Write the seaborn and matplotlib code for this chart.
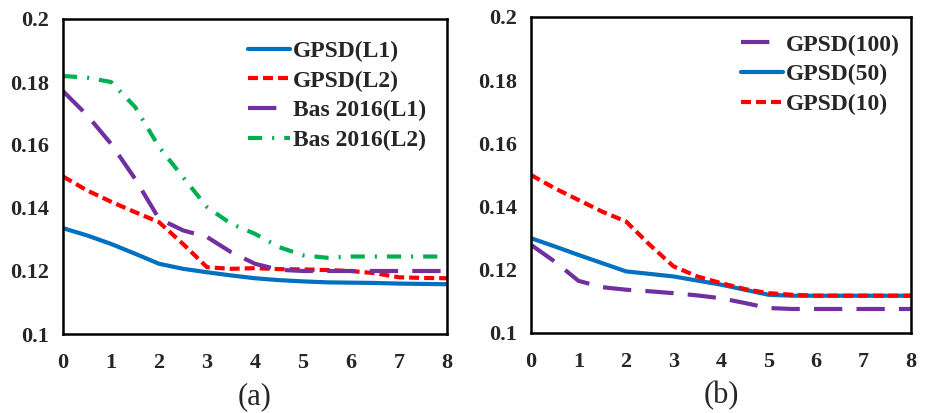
import numpy as np
import pandas as pd
import matplotlib
matplotlib.use("Agg")
import matplotlib.pyplot as plt
import seaborn as sns

# data (every half step)
iters = [0, 0.5, 1, 1.5, 2, 2.5, 3, 3.5, 4, 4.5, 5, 5.5, 6, 6.5, 7, 7.5, 8]

gpsd_l1 = [0.1336, 0.1313, 0.1286, 0.1255, 0.1223, 0.1207, 0.1196, 0.1186, 0.1177,
           0.1171, 0.1167, 0.1164, 0.1163, 0.1162, 0.1160, 0.1159, 0.1158]
gpsd_l2 = [0.1500, 0.1456, 0.1420, 0.1387, 0.1355, 0.1286, 0.1212, 0.1207, 0.1209,
           0.1206, 0.1205, 0.1203, 0.1200, 0.1193, 0.1180, 0.1178, 0.1177]
bas_l1 = [0.1771, 0.1695, 0.1604, 0.1493, 0.1366, 0.1329, 0.1308, 0.1260, 0.1223,
          0.1204, 0.1200, 0.1200, 0.1200, 0.1200, 0.1200, 0.1200, 0.1200]
bas_l2 = [0.1819, 0.1814, 0.1800, 0.1721, 0.1594, 0.1498, 0.1403, 0.1350, 0.1318,
          0.1276, 0.1250, 0.1242, 0.1246, 0.1246, 0.1246, 0.1246, 0.1246]

gpsd_100 = [0.1279, 0.1226, 0.1165, 0.1145, 0.1137, 0.1132, 0.1126, 0.1119, 0.1110,
            0.1095, 0.1079, 0.1076, 0.1076, 0.1076, 0.1076, 0.1076, 0.1076]
gpsd_50 = [0.1300, 0.1274, 0.1247, 0.1221, 0.1195, 0.1187, 0.1179, 0.1166, 0.1153,
           0.1137, 0.1121, 0.1118, 0.1118, 0.1118, 0.1118, 0.1118, 0.1118]
gpsd_10 = [0.1500, 0.1458, 0.1421, 0.1384, 0.1353, 0.1279, 0.1211, 0.1179, 0.1158,
           0.1139, 0.1126, 0.1121, 0.1118, 0.1118, 0.1118, 0.1118, 0.1118]

blue = "#0070C0"
red = "#FF0000"
purple = "#7030A0"
green = "#00B050"

solid = "-"
short_dash = (0, (2.4, 1.2))
long_dash = (0, (6.8, 3.4))
dash_dot = (0, (3.4, 2.4, 0.5, 2.4))

sns.set_style("white")
plt.rcParams["font.family"] = ["Liberation Serif", "DejaVu Serif"]
plt.rcParams["font.weight"] = "bold"

fig = plt.figure(figsize=(9.29, 4.13), dpi=100)
ax1 = fig.add_axes([63 / 929, 1 - 334 / 413, 384 / 929, 315 / 413])
ax2 = fig.add_axes([531 / 929, 1 - 333 / 413, 380 / 929, 316 / 413])

panel_a = [
    ("GPSD(L1)", gpsd_l1, blue, solid),
    ("GPSD(L2)", gpsd_l2, red, short_dash),
    ("Bas 2016(L1)", bas_l1, purple, long_dash),
    ("Bas 2016(L2)", bas_l2, green, dash_dot),
]
panel_b = [
    ("GPSD(100)", gpsd_100, purple, long_dash),
    ("GPSD(50)", gpsd_50, blue, solid),
    ("GPSD(10)", gpsd_10, red, short_dash),
]

for ax, series, tag, anchor in [(ax1, panel_a, "(a)", (1.0, 1.0)),
                                (ax2, panel_b, "(b)", (1.026, 1.013))]:
    for name, vals, col, ls in series:
        df = pd.DataFrame({"x": iters, "y": vals})
        sns.lineplot(data=df, x="x", y="y", ax=ax, color=col, linestyle=ls,
                     linewidth=3, label=name)
    ax.set_xlim(0, 8)
    ax.set_ylim(0.1, 0.2)
    ax.set_xticks(range(0, 9))
    ax.set_yticks([0.1, 0.12, 0.14, 0.16, 0.18, 0.2])
    ax.set_yticklabels(["0.1", "0.12", "0.14", "0.16", "0.18", "0.2"])
    ax.tick_params(axis="both", length=0, labelsize=16)
    ax.tick_params(axis="y", pad=10)
    ax.tick_params(axis="x", pad=14)
    for lab in ax.get_xticklabels() + ax.get_yticklabels():
        lab.set_fontweight("bold")
    for sp in ax.spines.values():
        sp.set_visible(True)
        sp.set_color("black")
        sp.set_linewidth(1.8)
    ax.set_xlabel(tag, fontsize=22, fontweight="normal", labelpad=6)
    ax.set_ylabel("")
    ax.legend(loc="upper right", bbox_to_anchor=anchor, frameon=False,
              prop={"size": 17, "weight": "bold"},
              handlelength=1.8, handletextpad=0.1, labelspacing=0.35,
              borderaxespad=0.5)

fig.savefig("out.png", dpi=100)
